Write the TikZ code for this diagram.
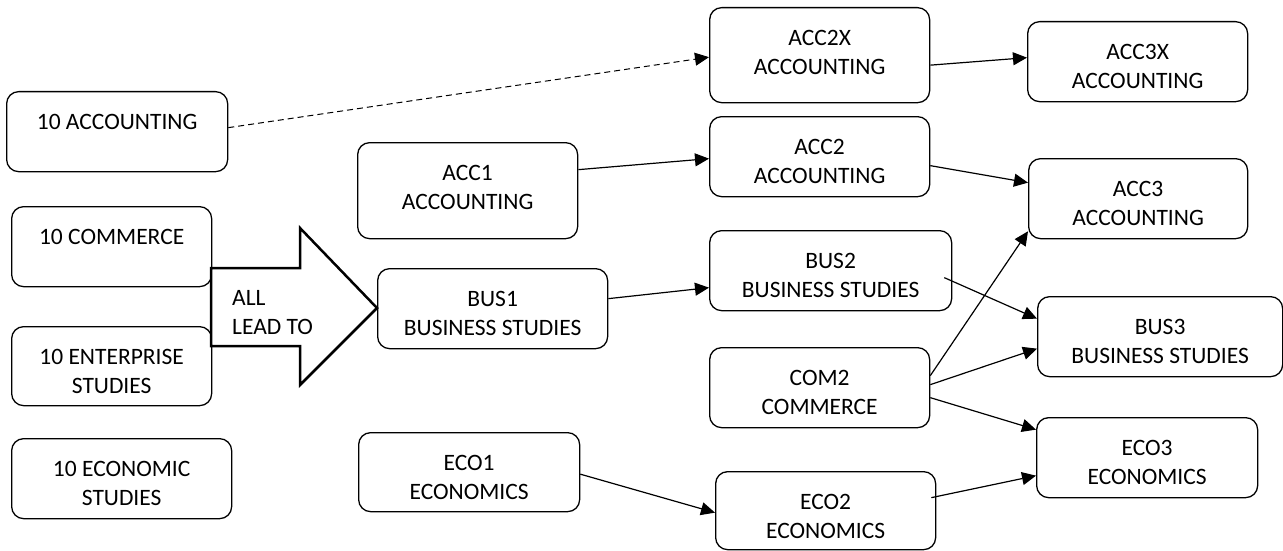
\documentclass[tikz,border=0pt]{standalone}
\usepackage{fontspec}
\setmainfont{Carlito}
\usetikzlibrary{arrows.meta}

% box text: width, height, lines (top aligned like a text box)
\newcommand{\crs}[3]{\parbox[t][#2pt][t]{#1pt}{\centering\rule{0pt}{38pt}#3}}

\begin{document}
\begin{tikzpicture}[
    x=1pt, y=-1pt,
    course/.style={rectangle, rounded corners=12pt, draw, line width=1.3pt, anchor=north west, inner sep=0pt, font=\fontsize{23.5pt}{29pt}\selectfont},
    arrow/.style={-{Triangle[length=14pt, width=13pt]}, line width=1.2pt}
]
\useasboundingbox (0,0) rectangle (1283,551);

% year 10
\node[course] (acc10) at (6,91) {\crs{221}{80}{10 ACCOUNTING}};
\node[course] (com10) at (11,206) {\crs{200}{80}{10 COMMERCE}};
\node[course] (ent10) at (11,326) {\crs{200}{79}{10 ENTERPRISE\\STUDIES}};
\node[course] (eco10) at (11,438) {\crs{220}{80}{10 ECONOMIC\\STUDIES}};

% unit 1
\node[course] (acc1) at (357,142) {\crs{220}{96}{ACC1\\ACCOUNTING}};
\node[course] (bus1) at (377,268) {\crs{230}{80}{BUS1\\BUSINESS STUDIES}};
\node[course] (eco1) at (358,432) {\crs{221}{79}{ECO1\\ECONOMICS}};

% unit 2
\node[course] (acc2x) at (709,7) {\crs{220}{95}{ACC2X\\ACCOUNTING}};
\node[course] (acc2) at (709,116) {\crs{220}{80}{ACC2\\ACCOUNTING}};
\node[course] (bus2) at (709,230) {\crs{242}{80}{BUS2\\BUSINESS STUDIES}};
\node[course] (com2) at (709,347) {\crs{220}{80}{COM2\\COMMERCE}};
\node[course] (eco2) at (715,471) {\crs{220}{78}{ECO2\\ECONOMICS}};

% unit 3
\node[course] (acc3x) at (1027,21) {\crs{220}{80}{ACC3X\\ACCOUNTING}};
\node[course] (acc3) at (1028,158) {\crs{219}{80}{ACC3\\ACCOUNTING}};
\node[course] (bus3) at (1037,296) {\crs{245}{80}{BUS3\\BUSINESS STUDIES}};
\node[course] (eco3) at (1036,417) {\crs{221}{80}{ECO3\\ECONOMICS}};

% big block arrow
\draw[line width=2.5pt, fill=white] (211,268) -- (300,268) -- (300,228) -- (377,308) -- (300,385) -- (300,346) -- (211,346) -- cycle;
\node[anchor=north west, inner sep=0pt, align=left, font=\fontsize{23.5pt}{29pt}\selectfont] (lead) at (232,290) {ALL\\LEAD TO};

\draw[arrow, line width=1pt, dash pattern=on 6pt off 4pt] ([yshift=4pt]acc10.east) -- ([yshift=-2pt]acc2x.west);
\draw[arrow] ([yshift=21pt]acc1.east) -- ([yshift=-2pt]acc2.west);
\draw[arrow] ([yshift=10pt]bus1.east) -- ([yshift=-17pt]bus2.west);
\draw[arrow] ([yshift=-2pt]eco1.east) -- ([yshift=-2pt]eco2.west);
\draw[arrow] ([yshift=-10pt]acc2x.east) -- ([yshift=4pt]acc3x.west);
\draw[arrow] ([yshift=-9pt]acc2.east) -- ([yshift=16pt]acc3.west);
\draw[arrow] ([shift={(-8pt,-7pt)}]bus2.east) -- ([yshift=18pt]bus3.west);
\draw[arrow] ([yshift=12pt]com2.east) -- ([yshift=8pt]acc3.south west);
\draw[arrow] ([yshift=3pt]com2.east) -- ([yshift=-12pt]bus3.west);
\draw[arrow] ([yshift=-10pt]com2.east) -- ([yshift=28pt]eco3.west);
\draw[arrow] ([shift={(-5pt,13pt)}]eco2.east) -- ([yshift=-18pt]eco3.west);
\end{tikzpicture}
\end{document}
